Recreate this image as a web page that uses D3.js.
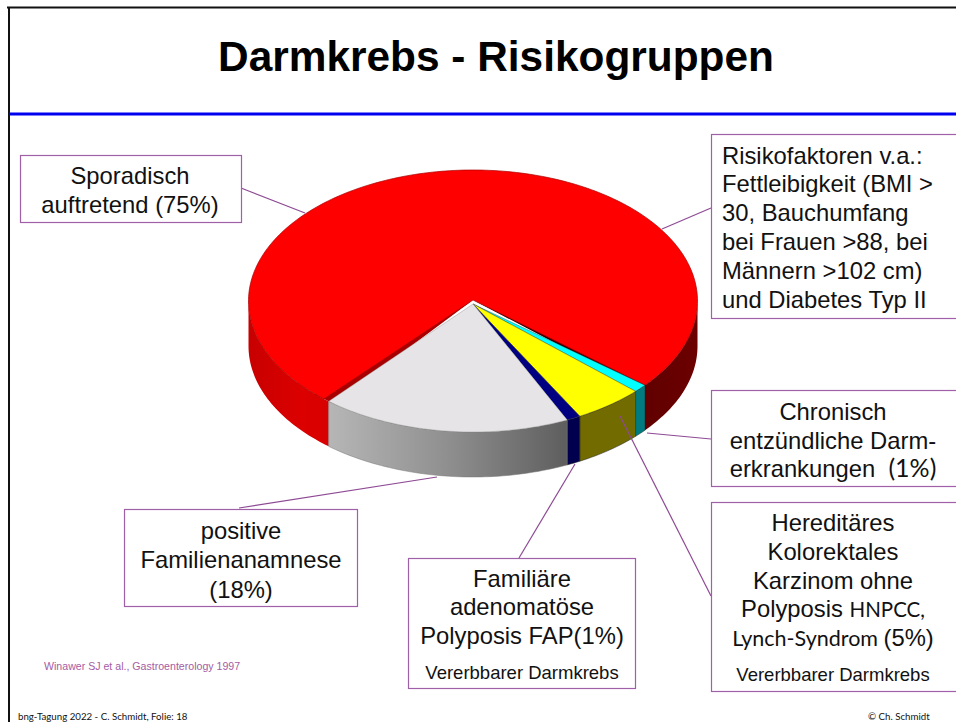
<!DOCTYPE html>
<html>
<head>
<meta charset="utf-8">
<script src="https://d3js.org/d3.v7.min.js"></script>
<style>
html,body{margin:0;padding:0;background:#fff;overflow:hidden}
text{font-family:"Liberation Sans",Arial,sans-serif;fill:#111}
.cal{font-family:Lato,"Open Sans",sans-serif}
</style>
</head>
<body>
<svg id="svg" width="956" height="722"></svg>
<script>
// slices, clockwise starting at the left edge of the red one
var categories = ['Sporadisch','Chronisch entzuendlich','HNPCC','FAP','Familienanamnese'];
var values = [75,1,5,1,18];
var topColors = ['#ff0000','#00ffff','#ffff00','#000080','#e6e4e6'];
var sideColors = ['url(#redSide)','#007c80','#716b00','#00004e','url(#graySide)'];

var titleText = 'Darmkrebs - Risikogruppen';
var citation = 'Winawer SJ et al., Gastroenterology 1997';
var footerLeft = 'bng-Tagung 2022 - C. Schmidt, Folie: 18';
var footerRight = '© Ch. Schmidt';

// callouts: one entry per text line, each line a list of runs
var sporadisch = [['Sporadisch'],['auftretend (75%)']];
var risiko = [['Risikofaktoren v.a.:'],['Fettleibigkeit (BMI >'],['30, Bauchumfang'],['bei Frauen >88, bei'],['Männern >102 cm)'],['und Diabetes Typ II']];
var chronisch = [['Chronisch'],['entzündliche Darm-'],['erkrankungen  ','(1%)']];
var hereditaer = [['Hereditäres'],['Kolorektales'],['Karzinom ohne'],['Polyposis ','HNPCC,'],['Lynch-Syndrom ','(5%)']];
var familie = [['positive'],['Familienanamnese'],['(18%)']];
var fap = [['Familiäre'],['adenomatöse'],['Polyposis FAP(1%)']];
var vererbbar = 'Vererbbarer Darmkrebs';

var svg = d3.select('#svg');
var cx = 473, cy = 301, rx = 224.5, ry = 131, depth = 45;

var defs = svg.append('defs');
function grad(id,x1,x2,stops){
    var g = defs.append('linearGradient').attr('id',id).attr('gradientUnits','userSpaceOnUse')
        .attr('x1',x1).attr('x2',x2).attr('y1',0).attr('y2',0);
    stops.forEach(function(s){ g.append('stop').attr('offset',s[0]).attr('stop-color',s[1]); });
}
grad('redSide',cx-rx,cx+rx,[[0,'#c80000'],[0.12,'#dc0000'],[0.36,'#cc0000'],[0.88,'#600000'],[1,'#6c0000']]);
grad('graySide',329,567,[[0,'#b6b6b6'],[0.5,'#8f8f8f'],[1,'#5e5e5e']]);

// frame and title rule
svg.append('line').attr('x1',7).attr('x2',956).attr('y1',7.5).attr('y2',7.5).attr('stroke','#111').attr('stroke-width',2);
svg.append('line').attr('x1',9).attr('x2',9).attr('y1',7).attr('y2',722).attr('stroke','#111').attr('stroke-width',2);
svg.append('line').attr('x1',9).attr('x2',956).attr('y1',114).attr('y2',114).attr('stroke','#0000f0').attr('stroke-width',3);

svg.append('text').attr('x',496).attr('y',71).attr('text-anchor','middle')
    .attr('font-size',42.4).attr('font-weight','bold').style('fill','#000').text(titleText);

// pie projected onto the tilted disc
var px = d3.scaleLinear().domain([-1,1]).range([cx-rx,cx+rx]);
var py = d3.scaleLinear().domain([-1,1]).range([cy-ry,cy+ry]);
var line = d3.line();
var slices = d3.pie().sort(null).startAngle(220*Math.PI/180).endAngle(580*Math.PI/180)(values);

function rim(a0,a1,dy){
    var n = Math.max(2,Math.ceil((a1-a0)/0.02));
    return d3.range(n+1).map(function(i){
        var a = a0+(a1-a0)*i/n;
        return [px(Math.sin(a)),py(-Math.cos(a))+dy];
    });
}
function wall(a0,a1){
    return line(rim(a0,a1,0).concat(rim(a0,a1,depth).reverse()))+'Z';
}
function face(a0,a1,apexDy){
    return line([[cx,cy+apexDy]].concat(rim(a0,a1,0)))+'Z';
}
var HALF = Math.PI/2, TURN = Math.PI*2;

// red wall shows on both sides of the front, the rest sits in the front
var redStart = slices[0].startAngle, redEnd = slices[0].endAngle;
svg.append('path').attr('d',wall(redStart,1.5*Math.PI)).attr('fill',sideColors[0]);
svg.append('path').attr('d',wall(TURN+HALF,redEnd)).attr('fill',sideColors[0]);

var gapAngle = 1.6*Math.PI/180;
// dark cut faces under the front slices
svg.append('path').attr('d',face(redEnd-TURN-gapAngle,redEnd-TURN+gapAngle,-1)).attr('fill','#2a0000');
svg.append('path').attr('d',face(redStart-gapAngle,redStart+3*gapAngle,-1)).attr('fill','#a80000');
svg.append('path').attr('d',face(redStart+gapAngle,redEnd,-1)).attr('fill',topColors[0])
    .attr('stroke','#a80000').attr('stroke-width',0.7);

svg.selectAll('path.wall').data(slices.slice(1)).enter().append('path')
    .attr('class','wall')
    .attr('d',function(d){return wall(d.startAngle-TURN,d.endAngle-TURN);})
    .attr('fill',function(d){return sideColors[d.index];})
    .attr('stroke',function(d){return d.index==4?'#777':'#222';})
    .attr('stroke-width',0.5);
svg.selectAll('path.top').data(slices.slice(1)).enter().append('path')
    .attr('class','top')
    .attr('d',function(d){return face(d.startAngle-TURN,d.endAngle-TURN,3);})
    .attr('fill',function(d){return topColors[d.index];})
    .attr('stroke',function(d){return d.index==4?'#888':'#333';})
    .attr('stroke-width',0.4);

// leaders
var leaders = [[241,188,305,213],[711,208,662,229],[711,439,647,433],[711,596,620,416],[519,558,575,464],[239,508,437,477]];
svg.selectAll('line.lead').data(leaders).enter().append('line').attr('class','lead')
    .attr('x1',function(d){return d[0];}).attr('y1',function(d){return d[1];})
    .attr('x2',function(d){return d[2];}).attr('y2',function(d){return d[3];})
    .attr('stroke','#8e4a94').attr('stroke-width',1.2);

// boxes
var boxes = [[20.5,155.5,221,67],[711.5,134.5,260,184],[711.5,390.5,260,96],[711.5,502.5,260,189],[124.5,509.5,233,97],[408.5,558.5,227,130]];
svg.selectAll('rect.box').data(boxes).enter().append('rect').attr('class','box')
    .attr('x',function(d){return d[0];}).attr('y',function(d){return d[1];})
    .attr('width',function(d){return d[2];}).attr('height',function(d){return d[3];})
    .attr('fill','#fff').attr('stroke','#a060a8').attr('stroke-width',1.2);

// runs set in the slide's second font, with their sizes
var calSizes = {'(1%)':25,'HNPCC,':20.5,'Lynch-Syndrom ':21.5};
function block(lines,x,ys,anchor){
    lines.forEach(function(l,i){
        var t = svg.append('text').attr('x',x).attr('y',ys[i]).attr('text-anchor',anchor)
            .attr('font-size',23.8).style('white-space','pre');
        l.forEach(function(s){
            var sp = t.append('tspan').text(s);
            if(calSizes[s]) sp.attr('class','cal').attr('font-size',calSizes[s]);
        });
    });
}
block(sporadisch,130,[184,213],'middle');
block(risiko,722,[164,192,221,250,279,308],'start');
block(chronisch,833,[420,449,477],'middle');
block(hereditaer,833,[531,560,589,617,646],'middle');
block(familie,241,[539,568,598],'middle');
block(fap,522,[587,615,644],'middle');

svg.append('text').attr('x',833).attr('y',681).attr('text-anchor','middle').attr('font-size',18.5).text(vererbbar);
svg.append('text').attr('x',522).attr('y',679).attr('text-anchor','middle').attr('font-size',18.5).text(vererbbar);

svg.append('text').attr('x',44).attr('y',670).attr('font-size',10.6).style('fill','#a45ca4').text(citation);
svg.append('text').attr('class','cal').attr('x',18).attr('y',720).attr('font-size',9.7).text(footerLeft);
svg.append('text').attr('class','cal').attr('x',868).attr('y',720).attr('font-size',9.7).text(footerRight);
</script>
</body>
</html>
